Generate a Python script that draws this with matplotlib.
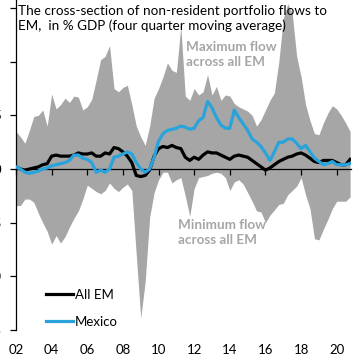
import matplotlib
matplotlib.use("Agg")
import matplotlib.pyplot as plt
import matplotlib.transforms as mtransforms
import numpy as np

# Quarterly data, 2002Q1 .. 2020Q4 (% of GDP, four-quarter moving average)
start_year = 2002
max_flow = [3.5, 3.0, 2.4, 3.6, 4.9, 5.0, 5.5, 4.0, 7.0, 5.6, 6.0, 6.6, 6.2, 6.8, 6.7, 5.5,
            5.8, 6.5, 8.3, 10.2, 10.5, 11.5, 7.5, 7.2, 7.6, 7.8, 6.0, 4.0, 3.0, 2.2, 4.0, 6.6,
            7.5, 8.6, 9.9, 9.2, 9.0, 13.3, 6.8, 6.4, 7.5, 6.9, 7.2, 8.8, 6.9, 7.7, 6.4, 6.9,
            6.8, 6.1, 5.8, 5.6, 5.4, 5.0, 4.0, 4.6, 5.5, 6.4, 7.1, 10.0, 14.0, 15.4, 14.5, 10.5,
            8.6, 6.0, 4.5, 3.3, 3.2, 4.3, 5.2, 5.9, 5.6, 5.0, 4.3, 3.5]
min_flow = [-3.4, -3.4, -2.8, -2.8, -3.1, -4.1, -5.0, -5.8, -7.0, -6.2, -6.9, -6.3, -5.4, -4.6, -3.9, -2.8,
            -1.5, -1.8, -2.1, -2.3, -2.0, -1.3, -1.8, -2.1, -1.7, -1.4, -2.0, -8.0, -13.9, -10.5, -4.5, -2.2,
            -1.0, -0.3, -0.3, -1.3, -1.0, -0.8, -2.5, -4.4, -1.8, -0.8, -0.7, -0.6, -0.4, -0.3, -0.4, -0.8,
            -2.0, -1.2, -1.0, -1.4, -2.2, -3.0, -3.9, -4.0, -5.0, -4.3, -3.8, -3.3, -3.2, -2.4, -2.0, -1.6,
            -0.8, -2.4, -3.7, -6.5, -6.6, -5.6, -4.7, -3.7, -3.0, -3.0, -3.0, -2.6]
all_em = [0.2, 0.0, -0.1, 0.0, 0.1, 0.2, 0.4, 0.5, 1.2, 1.3, 1.2, 1.2, 1.2, 1.3, 1.5, 1.4,
          1.4, 1.5, 1.2, 1.2, 1.5, 1.4, 2.0, 1.9, 1.6, 1.2, 0.6, -0.6, -0.7, -0.6, -0.1, 1.2,
          1.9, 2.1, 2.0, 2.2, 2.0, 1.9, 1.1, 0.8, 1.1, 0.9, 1.3, 1.6, 1.5, 1.5, 1.3, 1.1,
          0.9, 1.2, 1.3, 1.2, 1.1, 0.8, 0.5, 0.2, -0.1, 0.1, 0.4, 0.7, 0.9, 1.1, 1.2, 1.4,
          1.5, 1.3, 1.0, 0.7, 0.6, 0.8, 0.8, 0.8, 0.6, 0.4, 0.4, 0.9]
mexico = [0.2, 0.0, -0.3, -0.4, -0.3, -0.2, 0.0, 0.1, 0.3, 0.4, 0.5, 0.6, 0.8, 1.3, 1.3, 1.0,
          0.9, 0.6, -0.3, -0.1, -0.3, 0.0, 1.1, 1.2, 1.4, 1.6, 1.4, 0.6, 0.0, -0.3, 0.0, 1.1,
          2.6, 3.3, 3.6, 3.7, 3.8, 4.0, 3.9, 3.7, 3.8, 4.5, 4.8, 6.3, 5.7, 4.8, 4.1, 3.8,
          3.8, 5.5, 4.8, 4.2, 3.6, 2.8, 2.5, 2.1, 1.5, 0.8, 1.6, 2.5, 2.5, 2.8, 2.8, 2.4,
          1.9, 2.2, 1.6, 1.0, 0.7, 0.4, 0.5, 0.7, 0.4, 0.4, 0.4, 0.5]
x_ticks = [2002, 2004, 2006, 2008, 2010, 2012, 2014, 2016, 2018, 2020]
x_labels = ["02", "04", "06", "08", "10", "12", "14", "16", "18", "20"]
y_ticks = [-15, -10, -5, 0, 5, 10, 15]

t = start_year + np.arange(len(max_flow)) / 4.0

plt.rcParams['font.family'] = ['Lato', 'DejaVu Sans']

W = H = 359
fig = plt.figure(figsize=(W / 100, H / 100), dpi=100)
ax = fig.add_axes([16 / W, 29 / H, 335 / W, 330 / H])

ax.fill_between(t, min_flow, max_flow, color='#a6a6a6', linewidth=0, zorder=1)
ax.plot(t, all_em, color='black', lw=2.3, label='All EM', zorder=3)
ax.plot(t, mexico, color='#29a3dc', lw=2.3, label='Mexico', zorder=4)

ax.set_xlim(2002, 2020.8)
ax.set_ylim(-15, 15.75)

for s in ['top', 'right']:
    ax.spines[s].set_visible(False)
ax.spines['bottom'].set_position(('data', 0))
ax.spines['bottom'].set_linewidth(0.9)
ax.spines['left'].set_linewidth(0.9)
ax.spines['bottom'].set_zorder(2)

ax.set_xticks(x_ticks)
ax.tick_params(axis='x', direction='out', length=4.5, width=0.9, labelbottom=False)
ax.set_yticks(y_ticks)
ax.tick_params(axis='y', direction='out', length=4, width=0.9, labelsize=9.5, pad=6.5)

trans = mtransforms.blended_transform_factory(ax.transData, ax.transAxes)
for xv, lab in zip(x_ticks, x_labels):
    ax.text(xv, -20 / 330, lab, transform=trans, ha='center', va='center', fontsize=9.5)

fig.text(18 / W, 1 - 5 / H,
         "The cross-section of non-resident portfolio flows to\nEM,  in % GDP (four quarter moving average)",
         ha='left', va='top', fontsize=9.7, linespacing=1.2, color='black', zorder=10)

ax.text(2011.55, 11.9, "Maximum flow\nacross all EM", ha='left', va='top',
        fontsize=9.7, fontweight='bold', color='#a6a6a6', linespacing=1.25, zorder=5)
ax.text(2011.1, -4.7, "Minimum flow\nacross all EM", ha='left', va='top',
        fontsize=9.7, fontweight='bold', color='#a6a6a6', linespacing=1.25, zorder=5)

ax.legend(loc='upper left', bbox_to_anchor=(0.09, 0.125), frameon=False,
          fontsize=9.5, handlelength=2.0, handletextpad=0.2, labelspacing=1.15,
          borderpad=0, borderaxespad=0)

fig.savefig("out.png", dpi=100)
